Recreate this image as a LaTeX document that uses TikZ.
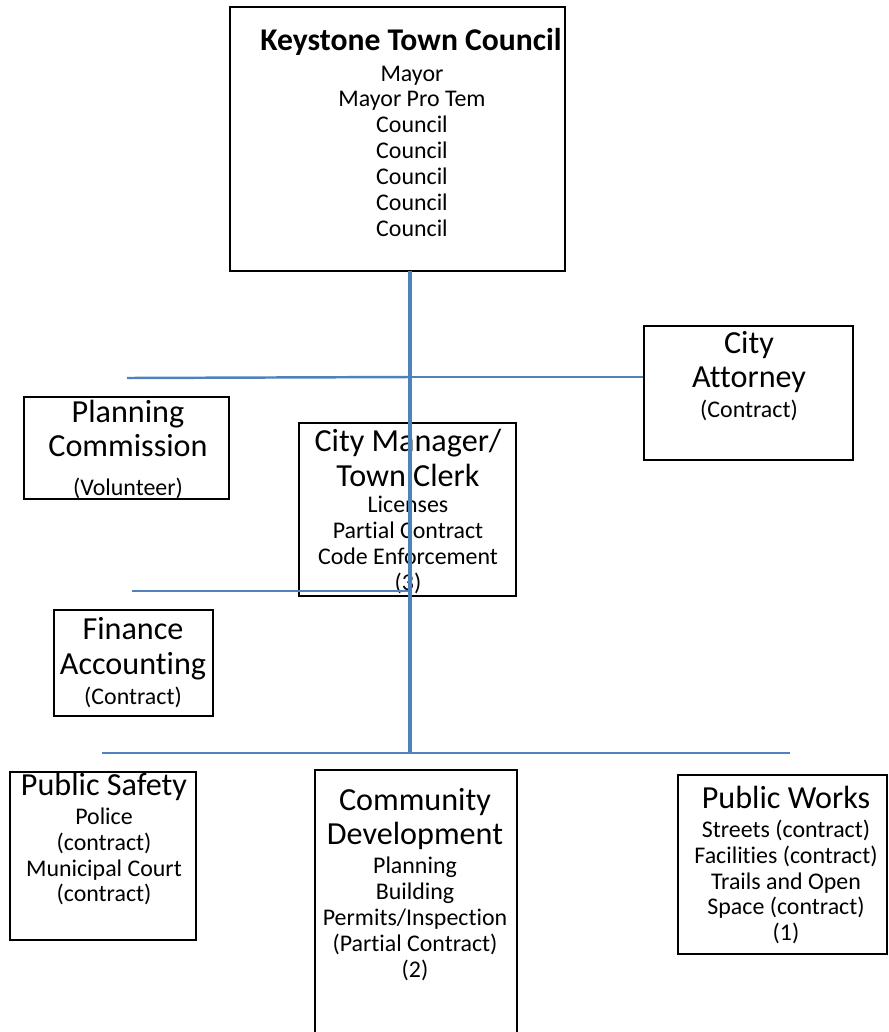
\documentclass[tikz,border=0pt]{standalone}
\usepackage{fontspec}
\setmainfont[Ligatures=NoCommon]{Carlito}
\usetikzlibrary{positioning,fit}
\definecolor{linkblue}{HTML}{4F81BD}

\begin{document}
\begin{tikzpicture}[
      x=0.02cm, y=-0.02cm,
      box/.style={draw, line width=1.1pt, inner sep=0pt},
      head/.style={align=center, inner sep=0pt, font=\fontsize{18.3}{19.8}\selectfont},
      body/.style={align=center, inner sep=0pt, font=\fontsize{13.6}{14.7}\selectfont},
      link/.style={draw=linkblue, line width=1.4pt},
      trunk/.style={draw=linkblue, line width=2.4pt}
    ]
      \useasboundingbox (0,0) rectangle (889,1032);
      % boxes
      \node[box, fit={(230,7) (565,271)}] (council) {};
      \node[box, fit={(24,397) (229,499)}] (planning) {};
      \node[box, fit={(299,423) (516,596)}] (manager) {};
      \node[box, fit={(644,326) (853,460)}] (attorney) {};
      \node[box, fit={(54,610) (213,716)}] (finance) {};
      \node[box, fit={(10,772) (196,940)}] (safety) {};
      \node[box, fit={(315,770) (517,1040)}] (community) {};
      \node[box, fit={(678,775) (887,954)}] (works) {};
      % texts
      \node[head, font=\fontsize{18}{20}\selectfont\bfseries] (councilHead) at (411,42) {Keystone Town Council};
      \node[body] (councilBody) at (412,151) {Mayor\\Mayor Pro Tem\\Council\\Council\\Council\\Council\\Council};
      \node[head] (planningHead) at (128,428.5) {Planning\\Commission};
      \node[body] (planningBody) at (128,488) {(Volunteer)};
      \node[head] (managerHead) at (408,458) {City Manager/\\Town Clerk};
      \node[body] (managerBody) at (408,545) {Licenses\\Partial Contract\\Code Enforcement\\(3)};
      \node[head] (attorneyHead) at (749,362) {City\\Attorney};
      \node[body] (attorneyBody) at (749,410) {(Contract)};
      \node[head] (financeHead) at (133,649) {Finance\\Accounting};
      \node[body] (financeBody) at (133,697) {(Contract)};
      \node[head] (safetyHead) at (104,787) {Public Safety};
      \node[body] (safetyBody) at (104,856.5) {Police\\(contract)\\Municipal Court\\(contract)};
      \node[head] (communityHead) at (415,819) {Community\\Development};
      \node[body] (communityBody) at (415,919) {Planning\\Building\\Permits/Inspection\\(Partial Contract)\\(2)};
      \node[head] (worksHead) at (786,797) {Public Works};
      \node[body] (worksBody) at (786,882) {Streets (contract)\\Facilities (contract)\\Trails and Open\\Space (contract)\\(1)};
      % connectors
      \coordinate (trunkTop) at (410,271);
      \coordinate (trunkBot) at (410,753);
      \coordinate (upperJoin) at (410,377);
      \coordinate (lowerJoin) at (410,591);
      \coordinate (planningEnd) at (127,378);
      \coordinate (financeEnd) at (132,591);
      \coordinate (busLeft) at (102,753);
      \coordinate (busRight) at (790,753);
      \draw[link] (planningEnd) -- (upperJoin);
      \draw[link] (upperJoin) -- (upperJoin -| attorney.west);
      \draw[link] (financeEnd) -- (lowerJoin);
      \draw[link] (busLeft) -- (busRight);
      \draw[trunk] (trunkTop) -- (trunkBot);
    \end{tikzpicture}
\end{document}
